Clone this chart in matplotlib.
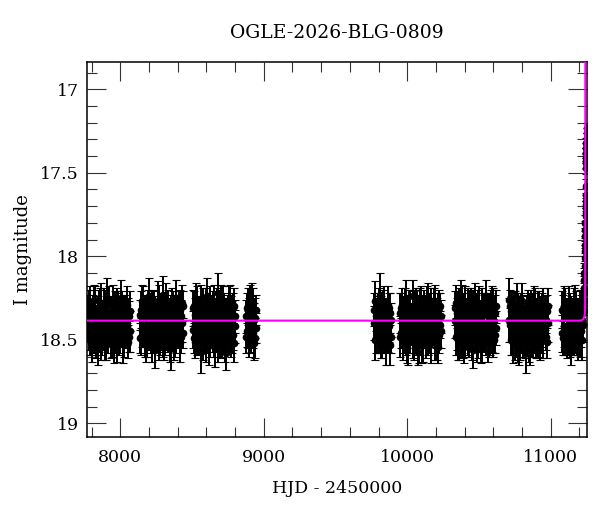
import matplotlib
matplotlib.use('Agg')
import matplotlib.pyplot as plt
from matplotlib.ticker import MultipleLocator, FormatStrFormatter

# OGLE seasons: HJD-2450000, I mag (two frames per night: _mag and _mag_b), error
s1_t = [7774, 7782, 7789, 7797, 7804, 7812, 7819, 7827, 7834, 7842,
        7849, 7857, 7864, 7872, 7879, 7887, 7894, 7902, 7909, 7917,
        7924, 7932, 7939, 7947, 7954, 7962, 7969, 7977, 7984, 7992,
        7999, 8007, 8014, 8022, 8029, 8037, 8044, 8052, 8059, 8067]
s1_mag = [18.41, 18.29, 18.47, 18.36, 18.52, 18.33, 18.26, 18.44, 18.39, 18.55,
          18.31, 18.42, 18.28, 18.49, 18.35, 18.45, 18.30, 18.53, 18.38, 18.43,
          18.27, 18.50, 18.34, 18.40, 18.54, 18.32, 18.46, 18.29, 18.41, 18.51,
          18.37, 18.25, 18.44, 18.36, 18.50, 18.31, 18.42, 18.35, 18.48, 18.33]
s1_mag_b = [18.33, 18.47, 18.30, 18.51, 18.39, 18.45, 18.49, 18.31, 18.53, 18.34,
            18.46, 18.28, 18.50, 18.37, 18.42, 18.30, 18.52, 18.36, 18.27, 18.48,
            18.44, 18.35, 18.52, 18.29, 18.38, 18.47, 18.31, 18.53, 18.34, 18.39,
            18.48, 18.43, 18.30, 18.52, 18.33, 18.47, 18.29, 18.51, 18.36, 18.45]
s1_err = [0.10, 0.09, 0.12, 0.08, 0.11, 0.10, 0.09, 0.13, 0.08, 0.10,
          0.11, 0.09, 0.12, 0.10, 0.08, 0.11, 0.10, 0.09, 0.14, 0.10,
          0.09, 0.11, 0.08, 0.12, 0.10, 0.11, 0.09, 0.10, 0.13, 0.08,
          0.10, 0.11, 0.09, 0.12, 0.10, 0.08, 0.11, 0.10, 0.09, 0.12]

s2_t = [8138, 8146, 8153, 8161, 8169, 8176, 8184, 8192, 8199, 8207,
        8215, 8222, 8230, 8238, 8245, 8253, 8261, 8268, 8276, 8284,
        8291, 8299, 8307, 8314, 8322, 8330, 8337, 8345, 8353, 8360,
        8368, 8376, 8383, 8391, 8399, 8406, 8414, 8422, 8429, 8436]
s2_mag = [18.35, 18.48, 18.27, 18.42, 18.31, 18.53, 18.38, 18.45, 18.24, 18.40,
          18.50, 18.33, 18.46, 18.29, 18.56, 18.37, 18.43, 18.26, 18.49, 18.34,
          18.41, 18.23, 18.52, 18.36, 18.44, 18.30, 18.47, 18.39, 18.55, 18.28,
          18.42, 18.35, 18.51, 18.25, 18.45, 18.38, 18.32, 18.48, 18.40, 18.30]
s2_mag_b = [18.49, 18.32, 18.44, 18.30, 18.52, 18.36, 18.47, 18.29, 18.45, 18.33,
            18.38, 18.51, 18.31, 18.48, 18.35, 18.46, 18.29, 18.53, 18.37, 18.44,
            18.30, 18.49, 18.34, 18.50, 18.28, 18.47, 18.33, 18.52, 18.36, 18.45,
            18.31, 18.50, 18.39, 18.47, 18.33, 18.29, 18.51, 18.36, 18.28, 18.46]
s2_err = [0.09, 0.11, 0.10, 0.12, 0.08, 0.10, 0.13, 0.09, 0.11, 0.10,
          0.08, 0.12, 0.10, 0.09, 0.11, 0.10, 0.14, 0.09, 0.10, 0.12,
          0.08, 0.11, 0.10, 0.09, 0.12, 0.10, 0.08, 0.11, 0.13, 0.09,
          0.10, 0.12, 0.09, 0.11, 0.10, 0.08, 0.12, 0.10, 0.11, 0.09]

s3_t = [8508, 8515, 8523, 8530, 8538, 8545, 8553, 8560, 8568, 8575,
        8583, 8590, 8598, 8605, 8613, 8620, 8628, 8635, 8643, 8650,
        8658, 8665, 8673, 8680, 8688, 8695, 8703, 8710, 8718, 8725,
        8733, 8740, 8748, 8755, 8763, 8770, 8778, 8785, 8793, 8800]
s3_mag = [18.44, 18.30, 18.51, 18.37, 18.26, 18.48, 18.34, 18.57, 18.40, 18.29,
          18.46, 18.35, 18.53, 18.24, 18.42, 18.38, 18.50, 18.31, 18.45, 18.27,
          18.55, 18.36, 18.43, 18.22, 18.48, 18.33, 18.41, 18.52, 18.28, 18.46,
          18.37, 18.58, 18.32, 18.44, 18.25, 18.50, 18.39, 18.47, 18.30, 18.42]
s3_mag_b = [18.31, 18.49, 18.35, 18.28, 18.51, 18.36, 18.47, 18.30, 18.33, 18.52,
            18.37, 18.49, 18.29, 18.46, 18.34, 18.51, 18.28, 18.47, 18.33, 18.50,
            18.38, 18.45, 18.29, 18.51, 18.34, 18.49, 18.30, 18.37, 18.48, 18.33,
            18.51, 18.35, 18.47, 18.29, 18.50, 18.34, 18.46, 18.31, 18.52, 18.36]
s3_err = [0.11, 0.09, 0.10, 0.12, 0.08, 0.11, 0.10, 0.13, 0.09, 0.10,
          0.12, 0.08, 0.10, 0.11, 0.09, 0.14, 0.10, 0.08, 0.12, 0.10,
          0.11, 0.09, 0.10, 0.12, 0.08, 0.11, 0.13, 0.09, 0.10, 0.11,
          0.12, 0.10, 0.09, 0.11, 0.08, 0.10, 0.12, 0.09, 0.11, 0.10]

s4_t = [8878, 8884, 8890, 8896, 8902, 8908, 8914, 8920, 8926, 8932, 8938, 8945]
s4_mag = [18.36, 18.45, 18.30, 18.50, 18.39, 18.33, 18.47, 18.41, 18.28, 18.52, 18.37, 18.43]
s4_mag_b = [18.48, 18.31, 18.44, 18.35, 18.29, 18.50, 18.34, 18.27, 18.46, 18.38, 18.49, 18.32]
s4_err = [0.10, 0.09, 0.11, 0.10, 0.12, 0.08, 0.10, 0.11, 0.09, 0.10, 0.12, 0.09]

s5_t = [9769, 9777, 9785, 9793, 9800, 9808, 9816, 9824, 9832, 9840, 9847, 9855, 9863, 9871, 9879, 9886]
s5_mag = [18.40, 18.27, 18.49, 18.35, 18.44, 18.23, 18.52, 18.38, 18.31, 18.46, 18.36, 18.55, 18.29, 18.42, 18.34, 18.48]
s5_mag_b = [18.32, 18.50, 18.36, 18.47, 18.29, 18.45, 18.33, 18.51, 18.44, 18.30, 18.49, 18.35, 18.46, 18.31, 18.53, 18.38]
s5_err = [0.10, 0.12, 0.09, 0.11, 0.10, 0.13, 0.09, 0.10, 0.11, 0.12, 0.08, 0.10, 0.11, 0.09, 0.12, 0.10]

s6_t = [9949, 9956, 9964, 9971, 9978, 9986, 9993, 10000, 10008, 10015,
        10022, 10030, 10037, 10044, 10052, 10059, 10066, 10074, 10081, 10088,
        10096, 10103, 10110, 10118, 10125, 10132, 10140, 10147, 10154, 10162,
        10169, 10176, 10184, 10191, 10198, 10206, 10213, 10220, 10227, 10233]
s6_mag = [18.34, 18.46, 18.29, 18.51, 18.38, 18.43, 18.26, 18.55, 18.36, 18.48,
          18.31, 18.42, 18.24, 18.50, 18.39, 18.45, 18.30, 18.57, 18.35, 18.41,
          18.27, 18.53, 18.37, 18.44, 18.32, 18.49, 18.40, 18.25, 18.47, 18.36,
          18.52, 18.33, 18.43, 18.28, 18.46, 18.38, 18.54, 18.31, 18.41, 18.45]
s6_mag_b = [18.48, 18.31, 18.45, 18.35, 18.50, 18.29, 18.47, 18.33, 18.52, 18.30,
            18.47, 18.36, 18.51, 18.33, 18.46, 18.30, 18.49, 18.36, 18.52, 18.29,
            18.46, 18.34, 18.50, 18.30, 18.47, 18.35, 18.28, 18.50, 18.33, 18.48,
            18.31, 18.46, 18.29, 18.51, 18.34, 18.49, 18.32, 18.47, 18.30, 18.36]
s6_err = [0.12, 0.09, 0.10, 0.11, 0.08, 0.10, 0.12, 0.09, 0.13, 0.10,
          0.11, 0.08, 0.10, 0.12, 0.09, 0.11, 0.10, 0.08, 0.12, 0.10,
          0.09, 0.11, 0.13, 0.10, 0.08, 0.12, 0.10, 0.09, 0.11, 0.10,
          0.12, 0.08, 0.10, 0.11, 0.09, 0.13, 0.10, 0.11, 0.08, 0.10]

s7_t = [10333, 10340, 10348, 10355, 10362, 10370, 10377, 10384, 10392, 10399,
        10406, 10414, 10421, 10428, 10436, 10443, 10450, 10458, 10465, 10472,
        10480, 10487, 10494, 10502, 10509, 10516, 10524, 10531, 10538, 10546,
        10553, 10560, 10568, 10575, 10582, 10590, 10597, 10604, 10611, 10617]
s7_mag = [18.39, 18.28, 18.47, 18.33, 18.52, 18.41, 18.25, 18.45, 18.36, 18.54,
          18.30, 18.43, 18.27, 18.49, 18.37, 18.44, 18.32, 18.56, 18.40, 18.26,
          18.48, 18.35, 18.51, 18.29, 18.42, 18.38, 18.53, 18.31, 18.46, 18.24,
          18.44, 18.36, 18.50, 18.33, 18.41, 18.28, 18.47, 18.39, 18.34, 18.43]
s7_mag_b = [18.31, 18.48, 18.34, 18.50, 18.29, 18.33, 18.49, 18.30, 18.52, 18.32,
            18.48, 18.35, 18.51, 18.31, 18.46, 18.29, 18.50, 18.34, 18.28, 18.47,
            18.32, 18.50, 18.30, 18.46, 18.35, 18.52, 18.29, 18.47, 18.33, 18.49,
            18.30, 18.51, 18.33, 18.48, 18.29, 18.47, 18.32, 18.50, 18.47, 18.30]
s7_err = [0.10, 0.11, 0.09, 0.12, 0.10, 0.08, 0.11, 0.13, 0.09, 0.10,
          0.12, 0.10, 0.08, 0.11, 0.09, 0.10, 0.12, 0.11, 0.08, 0.10,
          0.09, 0.13, 0.10, 0.11, 0.08, 0.12, 0.10, 0.09, 0.11, 0.10,
          0.08, 0.12, 0.10, 0.11, 0.09, 0.10, 0.13, 0.08, 0.11, 0.10]

s8_t = [10708, 10715, 10722, 10730, 10737, 10744, 10752, 10759, 10766, 10774,
        10781, 10788, 10796, 10803, 10810, 10818, 10825, 10832, 10840, 10847,
        10854, 10862, 10869, 10876, 10884, 10891, 10898, 10906, 10913, 10920,
        10928, 10935, 10942, 10950, 10957, 10964, 10971, 10978]
s8_mag = [18.26, 18.41, 18.33, 18.48, 18.37, 18.29, 18.52, 18.40, 18.45, 18.31,
          18.55, 18.36, 18.43, 18.27, 18.50, 18.39, 18.58, 18.34, 18.46, 18.30,
          18.53, 18.42, 18.35, 18.49, 18.28, 18.44, 18.38, 18.51, 18.32, 18.47,
          18.40, 18.36, 18.45, 18.30, 18.42, 18.38, 18.33, 18.40]
s8_mag_b = [18.38, 18.30, 18.50, 18.32, 18.52, 18.45, 18.31, 18.49, 18.29, 18.54,
            18.34, 18.50, 18.30, 18.47, 18.33, 18.52, 18.38, 18.49, 18.31, 18.55,
            18.36, 18.30, 18.51, 18.33, 18.48, 18.31, 18.53, 18.35, 18.49, 18.30,
            18.52, 18.46, 18.31, 18.50, 18.34, 18.48, 18.51, 18.30]
s8_err = [0.13, 0.10, 0.09, 0.11, 0.12, 0.08, 0.10, 0.11, 0.13, 0.09,
          0.10, 0.12, 0.08, 0.11, 0.10, 0.09, 0.12, 0.10, 0.11, 0.08,
          0.12, 0.10, 0.09, 0.11, 0.10, 0.12, 0.08, 0.10, 0.11, 0.09,
          0.10, 0.12, 0.09, 0.11, 0.10, 0.08, 0.10, 0.11]

s9_t = [11081, 11088, 11096, 11103, 11111, 11118, 11126, 11133, 11141, 11148,
        11156, 11163, 11171, 11178, 11186, 11193, 11201, 11208, 11216, 11224]
s9_mag = [18.46, 18.33, 18.42, 18.28, 18.51, 18.37, 18.44, 18.30, 18.55, 18.39,
          18.34, 18.48, 18.27, 18.43, 18.36, 18.52, 18.31, 18.45, 18.38, 18.41]
s9_mag_b = [18.32, 18.49, 18.30, 18.50, 18.35, 18.48, 18.31, 18.52, 18.34, 18.46,
            18.50, 18.30, 18.47, 18.33, 18.51, 18.35, 18.49, 18.32, 18.50, 18.30]
s9_err = [0.11, 0.10, 0.12, 0.09, 0.10, 0.11, 0.13, 0.08, 0.10, 0.12,
          0.09, 0.11, 0.10, 0.12, 0.08, 0.10, 0.11, 0.09, 0.12, 0.10]

# rising part of the event
peak_t = [11229, 11231, 11232, 11233, 11234, 11235, 11236, 11237, 11238, 11239,
          11240, 11241, 11242, 11243, 11244, 11245, 11246, 11246.5, 11247, 11247.5,
          11248, 11248.5, 11249, 11249.5, 11250, 11250.5, 11251, 11244.5, 11245.5, 11247.2]
peak_mag = [18.33, 18.27, 18.22, 18.19, 18.14, 18.10, 18.06, 18.01, 17.97, 17.93,
            17.88, 17.84, 17.80, 17.76, 17.71, 17.67, 17.63, 17.58, 17.47, 17.44,
            17.41, 17.38, 17.35, 17.32, 17.29, 17.26, 17.23, 17.74, 17.69, 17.43]
peak_err = [0.08, 0.08, 0.07, 0.07, 0.07, 0.06, 0.06, 0.06, 0.06, 0.05,
            0.05, 0.05, 0.05, 0.05, 0.04, 0.04, 0.04, 0.04, 0.04, 0.04,
            0.03, 0.03, 0.03, 0.03, 0.03, 0.03, 0.03, 0.04, 0.04, 0.04]

# microlensing model curve
model_t = [7770, 10000, 11200, 11215, 11228, 11235, 11238.5, 11240, 11240.7, 11241.2, 11241.6, 11242]
model_mag = [18.385, 18.385, 18.385, 18.383, 18.375, 18.36, 18.34, 18.30, 18.10, 17.60, 17.00, 16.40]

nights = [(s1_t, s1_mag, s1_mag_b, s1_err), (s2_t, s2_mag, s2_mag_b, s2_err),
          (s3_t, s3_mag, s3_mag_b, s3_err), (s4_t, s4_mag, s4_mag_b, s4_err),
          (s5_t, s5_mag, s5_mag_b, s5_err), (s6_t, s6_mag, s6_mag_b, s6_err),
          (s7_t, s7_mag, s7_mag_b, s7_err), (s8_t, s8_mag, s8_mag_b, s8_err),
          (s9_t, s9_mag, s9_mag_b, s9_err)]

plt.rcParams['font.family'] = 'DejaVu Serif'
fig = plt.figure(figsize=(6, 5.12), dpi=100)
ax = fig.add_axes([0.1455, 0.147, 0.8323, 0.7325])


def draw(t, m, e):
    eb = ax.errorbar(t, m, yerr=e, fmt='o', color='black', ms=4.5, elinewidth=1.4,
                     capsize=3, capthick=0.8, zorder=2)
    for cap in eb[1]:
        cap.set_color('#555555')


for t, ma, mb, e in nights:
    draw(t, ma, e)
    draw(t, mb, e)
draw(peak_t, peak_mag, peak_err)

ax.plot(model_t, model_mag, color='#ff00ff', lw=1.5, zorder=3)

ax.set_xlim(7770, 11251)
ax.set_ylim(19.08, 16.835)
ax.xaxis.set_major_locator(MultipleLocator(1000))
ax.xaxis.set_minor_locator(MultipleLocator(200))
ax.yaxis.set_major_locator(MultipleLocator(0.5))
ax.yaxis.set_minor_locator(MultipleLocator(0.1))
ax.yaxis.set_major_formatter(FormatStrFormatter('%g'))
ax.tick_params(which='both', direction='in', top=True, right=True,
               width=0.8, color='#333333', labelsize=12.5)
ax.tick_params(which='major', length=14)
ax.tick_params(which='minor', length=7)
ax.tick_params(axis='x', pad=9)
ax.tick_params(axis='y', pad=6)
for sp in ax.spines.values():
    sp.set_linewidth(1.1)

ax.set_xlabel('HJD - 2450000', fontsize=12.5, labelpad=10)
ax.set_ylabel('I magnitude', fontsize=13, labelpad=6)
ax.set_title('OGLE-2026-BLG-0809', fontsize=13.5, pad=17)

fig.savefig('out.png', dpi=100)
